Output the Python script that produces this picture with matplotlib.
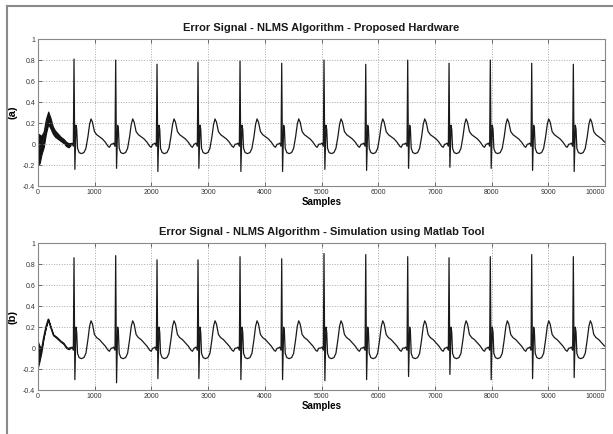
import numpy as np
import matplotlib.pyplot as plt
from matplotlib.lines import Line2D

plt.rcParams['font.family'] = ['Liberation Sans', 'DejaVu Sans']

# R-peak positions (samples)
beats = [635, 1370, 2099, 2822, 3563, 4298, 5044, 5780, 6520, 7249, 7977, 8707, 9441]

# (a) proposed hardware
r_peak_a = [0.81, 0.80, 0.76, 0.78, 0.79, 0.77, 0.80, 0.76, 0.80, 0.77, 0.80, 0.77, 0.76]
s_trough_a = [-0.24, -0.23, -0.26, -0.23, -0.26, -0.26, -0.24, -0.25, -0.23, -0.22, -0.23, -0.25, -0.26]
# (b) matlab simulation
r_peak_b = [0.86, 0.88, 0.84, 0.84, 0.87, 0.85, 0.90, 0.89, 0.87, 0.86, 0.87, 0.89, 0.87]
s_trough_b = [-0.30, -0.33, -0.29, -0.29, -0.30, -0.30, -0.31, -0.30, -0.27, -0.25, -0.30, -0.29, -0.28]

# beat shape around each R peak (offset in samples)
pre_off = [-60, -35, -12]
pre_val = [0.0, 0.01, -0.02]
s_off = 15
post_off = [35, 48, 62, 90, 130, 175, 210, 245, 275, 300, 325, 360, 400, 450, 500, 550, 600, 625, 655]
post_val_a = [0.18, 0.14, -0.04, -0.08, -0.09, -0.08, -0.04, 0.07, 0.19, 0.24, 0.21, 0.12, 0.09, 0.07, 0.05, 0.02, -0.02, -0.03, 0.0]
post_val_b = [0.20, 0.15, -0.05, -0.09, -0.10, -0.09, -0.05, 0.08, 0.21, 0.26, 0.23, 0.13, 0.10, 0.08, 0.05, 0.02, -0.02, -0.03, 0.0]

# start-up transient (adaptation), lower/upper envelope
trans_a_x = [0, 30, 60, 100, 140, 180, 220, 260, 300, 350, 400, 450, 500, 540, 575]
trans_a_lo = [-0.20, -0.18, -0.10, -0.03, 0.10, 0.19, 0.15, 0.10, 0.07, 0.05, 0.03, 0.01, -0.02, -0.03, -0.01]
trans_a_hi = [0.10, 0.09, 0.08, 0.12, 0.24, 0.31, 0.25, 0.17, 0.13, 0.10, 0.07, 0.05, 0.02, 0.01, 0.01]
trans_b_x = [0, 20, 40, 60, 100, 140, 180, 220, 270, 320, 360, 400, 450, 500, 540, 575]
trans_b_lo = [-0.18, -0.14, -0.09, -0.04, 0.10, 0.20, 0.27, 0.20, 0.12, 0.10, 0.08, 0.06, 0.04, 0.0, -0.01, 0.0]
trans_b_hi = [0.06, 0.03, 0.01, 0.0, 0.11, 0.21, 0.28, 0.21, 0.13, 0.11, 0.09, 0.07, 0.05, 0.01, 0.0, 0.01]

x_ticks = [0, 1000, 2000, 3000, 4000, 5000, 6000, 7000, 8000, 9000, 10000]
y_ticks = [-0.4, -0.2, 0, 0.2, 0.4, 0.6, 0.8, 1]
y_labels = ['-0.4', '-0.2', '0', '0.2', '0.4', '0.6', '0.8', '1']


def build(peaks, troughs, post_val, tx, tlo, thi):
    xs = list(tx)
    ys = [(lo + hi) / 2 for lo, hi in zip(tlo, thi)]
    for b, p, t in zip(beats, peaks, troughs):
        xs += [b + o for o in pre_off] + [b, b + s_off] + [b + o for o in post_off]
        ys += pre_val + [p, t] + post_val
    xs = np.array(xs, dtype=float)
    ys = np.array(ys)
    keep = xs <= 10000
    return xs[keep], ys[keep]


fig = plt.figure(figsize=(6.13, 4.34), dpi=100)
fig.add_artist(Line2D([7 / 613, 7 / 613], [0, 1 - 6 / 434], color='#8a8a8a', lw=1.5))
fig.add_artist(Line2D([7 / 613, 1], [1 - 6 / 434, 1 - 6 / 434], color='#8a8a8a', lw=1.5))

panels = [
    ([0.062, 0.571, 0.925, 0.339], r_peak_a, s_trough_a, post_val_a, trans_a_x, trans_a_lo, trans_a_hi,
     'Error Signal - NLMS Algorithm - Proposed Hardware', '(a)'),
    ([0.062, 0.101, 0.925, 0.339], r_peak_b, s_trough_b, post_val_b, trans_b_x, trans_b_lo, trans_b_hi,
     'Error Signal - NLMS Algorithm - Simulation using Matlab Tool', '(b)'),
]

for rect, pk, tr, pv, tx, tlo, thi, title, lab in panels:
    ax = fig.add_axes(rect)
    x, y = build(pk, tr, pv, tx, tlo, thi)
    ax.fill_between(tx, tlo, thi, color='#111111', lw=0.8)
    ax.plot(x, y, color='#1a1a1a', lw=0.9)
    ax.set_xlim(0, 10000)
    ax.set_ylim(-0.4, 1)
    ax.set_xticks(x_ticks)
    ax.set_xticklabels([str(v) for v in x_ticks])
    ax.get_xticklabels()[-1].set_horizontalalignment('right')
    ax.set_yticks(y_ticks)
    ax.set_yticklabels(y_labels)
    ax.tick_params(direction='in', top=True, right=True, labelsize=5, colors='#555555',
                   labelcolor='#333333', length=3, width=0.6, pad=2)
    ax.grid(True, linestyle=':', color='#a8a8a8', lw=0.7)
    for s in ax.spines.values():
        s.set_color('#888888')
        s.set_linewidth(0.8)
    ax.set_title(title, fontsize=8, fontweight='bold', color='#1a1a1a', pad=6)
    ax.set_xlabel('Samples', fontsize=7, fontweight='bold', labelpad=1)
    ax.set_ylabel(lab, fontsize=8, fontweight='bold', labelpad=4)

fig.savefig('out.png', dpi=100)
